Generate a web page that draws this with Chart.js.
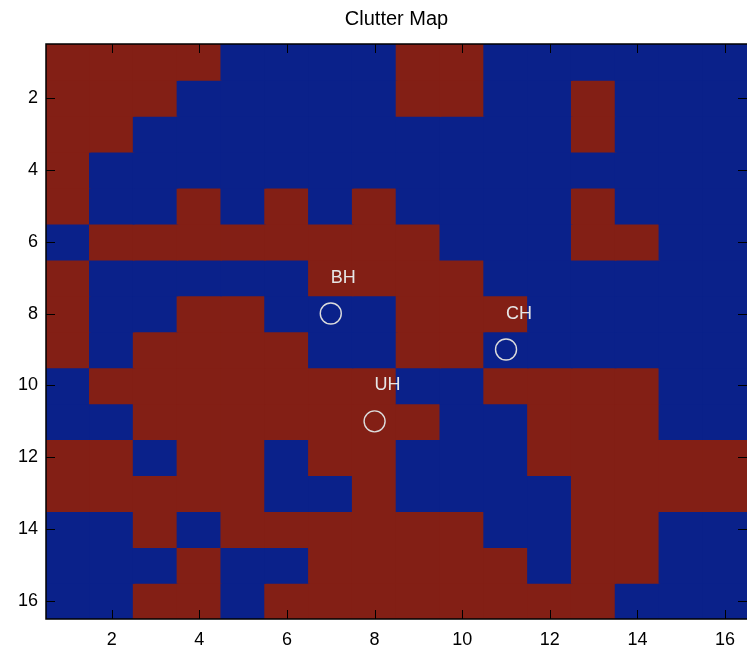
<!DOCTYPE html>
<html>
<head>
<meta charset="utf-8">
<script src="https://cdn.jsdelivr.net/npm/chart.js@4/dist/chart.umd.min.js"></script>
<style>
  body { margin: 0; background: #fff; }
  #wrap { width: 747px; height: 649px; }
</style>
</head>
<body>
<div id="wrap"><canvas id="clutterChart" width="747" height="649"></canvas></div>
<script>
// Clutter map (1 = clutter, 0 = clear), one row per range cell, columns left to right
const colLabels = ["1","2","3","4","5","6","7","8","9","10","11","12","13","14","15","16"];
const rowIndex = [1,2,3,4,5,6,7,8,9,10,11,12,13,14,15,16];
const clutter = [
    [1,1,1,1,0,0,0,0,1,1,0,0,0,0,0,0],
    [1,1,1,0,0,0,0,0,1,1,0,0,1,0,0,0],
    [1,1,0,0,0,0,0,0,0,0,0,0,1,0,0,0],
    [1,0,0,0,0,0,0,0,0,0,0,0,0,0,0,0],
    [1,0,0,1,0,1,0,1,0,0,0,0,1,0,0,0],
    [0,1,1,1,1,1,1,1,1,0,0,0,1,1,0,0],
    [1,0,0,0,0,0,1,1,1,1,0,0,0,0,0,0],
    [1,0,0,1,1,0,0,0,1,1,1,0,0,0,0,0],
    [1,0,1,1,1,1,0,0,1,1,0,0,0,0,0,0],
    [0,1,1,1,1,1,1,1,0,0,1,1,1,1,0,0],
    [0,0,1,1,1,1,1,1,1,0,0,1,1,1,0,0],
    [1,1,0,1,1,0,1,1,0,0,0,1,1,1,1,1],
    [1,1,1,1,1,0,0,1,0,0,0,0,1,1,1,1],
    [0,0,1,0,1,1,1,1,1,1,0,0,1,1,0,0],
    [0,0,0,1,0,0,1,1,1,1,1,0,1,1,0,0],
    [0,0,1,1,0,1,1,1,1,1,1,1,1,0,0,0]
];

// radar sites
const siteNames = ["BH", "CH", "UH"];
const siteCol = ["7", "11", "8"];
const siteRow = [8, 9, 11];
const nameCol = [7, 11, 8];
const nameRow = [7, 8, 10];

const xTicks = [2,4,6,8,10,12,14,16];
const yTicks = [2,4,6,8,10,12,14,16];

const RED = "rgb(131,31,21)";
const BLUE = "rgb(10,33,138)";
const FONT = "'Liberation Sans', Arial, sans-serif";

const rowSets = clutter.map((row, i) => ({
    type: "bar",
    data: row.map(() => [rowIndex[i] - 0.5, rowIndex[i] + 0.5]),
    backgroundColor: row.map(v => v ? RED : BLUE),
    borderWidth: 0,
    inflateAmount: 0.8,
    grouped: false,
    barPercentage: 1,
    categoryPercentage: 1,
    order: 1
}));

const siteSet = {
    type: "scatter",
    data: siteCol.map((c, i) => ({ x: c, y: siteRow[i] })),
    pointRadius: 10.5,
    pointBackgroundColor: "rgba(0,0,0,0)",
    pointBorderColor: "#dcdcdc",
    pointBorderWidth: 1.4,
    showLine: false,
    order: 0
};

// title, frame with inward ticks (matlab style) and the site names
const framePlugin = {
    id: "frame",
    afterDatasetsDraw(chart) {
        const ctx = chart.ctx;
        const a = chart.chartArea;
        const sx = chart.scales.x, sy = chart.scales.y;
        ctx.save();
        ctx.fillStyle = "#e6e6e6";
        ctx.font = "18px " + FONT;
        ctx.textAlign = "left";
        ctx.textBaseline = "middle";
        siteNames.forEach((n, i) => {
            ctx.fillText(n, sx.getPixelForValue(nameCol[i] - 1), sy.getPixelForValue(nameRow[i]));
        });
        ctx.fillStyle = "#000";
        ctx.font = "20px " + FONT;
        ctx.textAlign = "center";
        ctx.fillText("Clutter Map", (a.left + a.right) / 2, 19);

        ctx.strokeStyle = "#000";
        ctx.lineWidth = 1;
        ctx.beginPath();
        xTicks.forEach(t => {
            const px = Math.round(sx.getPixelForValue(t - 1)) + 0.5;
            ctx.moveTo(px, a.bottom); ctx.lineTo(px, a.bottom - 9);
            ctx.moveTo(px, a.top); ctx.lineTo(px, a.top + 9);
        });
        yTicks.forEach(t => {
            const py = Math.round(sy.getPixelForValue(t)) + 0.5;
            ctx.moveTo(a.left, py); ctx.lineTo(a.left + 9, py);
            ctx.moveTo(a.right, py); ctx.lineTo(a.right - 9, py);
        });
        ctx.stroke();
        // left, top and bottom edges (right edge sits on the canvas border)
        ctx.lineWidth = 1.5;
        ctx.beginPath();
        ctx.moveTo(a.right + 1, a.top);
        ctx.lineTo(a.left, a.top);
        ctx.lineTo(a.left, a.bottom);
        ctx.lineTo(a.right + 1, a.bottom);
        ctx.stroke();
        ctx.restore();
    }
};

new Chart(document.getElementById("clutterChart"), {
    type: "bar",
    data: {
        labels: colLabels,
        datasets: [...rowSets, siteSet]
    },
    options: {
        responsive: false,
        animation: false,
        layout: { autoPadding: false, padding: { top: 44, right: 0 } },
        plugins: {
            legend: { display: false },
            tooltip: { enabled: false },
            title: { display: false }
        },
        scales: {
            x: {
                type: "category",
                offset: true,
                grid: { display: false, drawTicks: false },
                border: { display: false },
                ticks: {
                    autoSkip: false,
                    maxRotation: 0,
                    padding: 10,
                    color: "#000",
                    font: { family: FONT, size: 18 },
                    callback: (v, i) => xTicks.includes(i + 1) ? colLabels[i] : ""
                },
                afterFit: s => {
                    s.height = 30;
                    s.paddingLeft = 0;
                    s.paddingRight = 0;
                }
            },
            y: {
                type: "linear",
                reverse: true,
                min: 0.5,
                max: 16.5,
                grid: { display: false, drawTicks: false },
                border: { display: false },
                afterBuildTicks: s => { s.ticks = yTicks.map(v => ({ value: v })); },
                ticks: {
                    padding: 8,
                    color: "#000",
                    font: { family: FONT, size: 18 }
                },
                afterFit: s => {
                    s.width = 46;
                    s.paddingTop = 0;
                    s.paddingBottom = 0;
                }
            }
        }
    },
    plugins: [framePlugin]
});
</script>
</body>
</html>
